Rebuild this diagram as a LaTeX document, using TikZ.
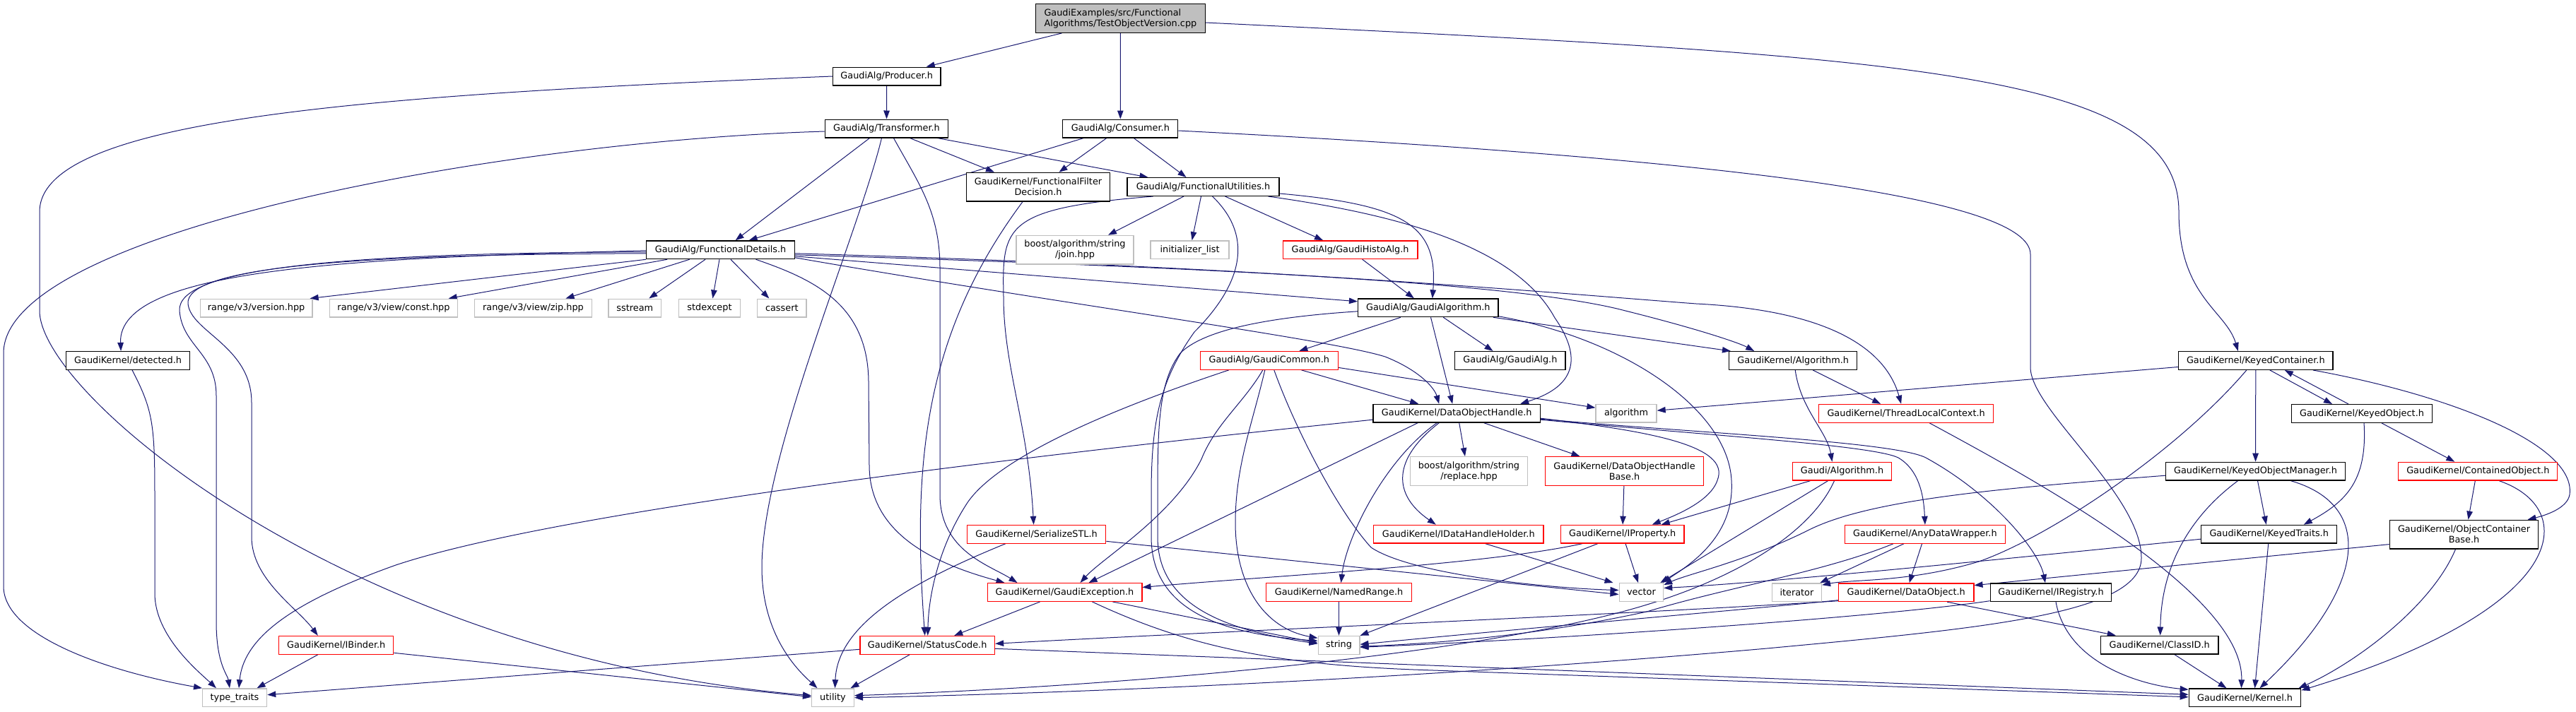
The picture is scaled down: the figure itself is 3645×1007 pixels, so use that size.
\documentclass[tikz,border=0pt]{standalone}
\usepackage{fontspec}
\newfontfamily\dv{DejaVu Sans}
\usetikzlibrary{arrows.meta}
\definecolor{edgec}{HTML}{191970}
\definecolor{gb}{HTML}{BFBFBF}
\pgfdeclarelayer{bg}
\pgfsetlayers{bg,main}
\tikzset{
 nd/.style={draw=black, fill=white, line width=1.3pt, inner sep=0pt, minimum height=25.7pt, font=\dv\fontsize{12.85}{15}\selectfont, text=black, align=center},
 nd2/.style={nd, minimum height=40.6pt},
 rd/.style={draw=red},
 gy/.style={draw=gb},
 e/.style={draw=edgec, line width=1pt, -{Triangle[length=12pt,width=8.5pt]}},
}
\begin{document}
\begin{tikzpicture}[x=1pt,y=-1pt]
\useasboundingbox (0,0) rectangle (3645,1007);
% ---------- nodes ----------
\node[nd2, fill=gb, align=left, minimum width=239.5pt] (root) at (1585.4,26) {GaudiExamples/src/Functional\\Algorithms/TestObjectVersion.cpp};
\node[nd, minimum width=152.5pt] (producer) at (1254.7,108) {GaudiAlg/Producer.h};
\node[nd, minimum width=174.6pt] (transformer) at (1254.5,182) {GaudiAlg/Transformer.h};
\node[nd, minimum width=163pt] (consumer) at (1585.3,182) {GaudiAlg/Consumer.h};
\node[nd2, minimum width=202.8pt] (ffd) at (1469,264.7) {GaudiKernel/FunctionalFilter\\Decision.h};
\node[nd, minimum width=215pt] (fu) at (1702.5,264.5) {GaudiAlg/FunctionalUtilities.h};
\node[nd, minimum width=209.8pt] (fd) at (1019.6,353.8) {GaudiAlg/FunctionalDetails.h};
\node[nd2, gy, minimum width=166pt] (join) at (1521,353.7) {boost/algorithm/string\\/join.hpp};
\node[nd, gy, minimum width=111pt] (initlist) at (1683.6,353.7) {initializer\_list};
\node[nd, rd, minimum width=190.6pt] (histo) at (1910.6,353.7) {GaudiAlg/GaudiHistoAlg.h};
\node[nd, gy, minimum width=158.8pt] (version) at (362.6,436) {range/v3/version.hpp};
\node[nd, gy, minimum width=180.5pt] (const) at (557,436) {range/v3/view/const.hpp};
\node[nd, gy, minimum width=165.8pt] (zip) at (754.5,436) {range/v3/view/zip.hpp};
\node[nd, gy, minimum width=74.6pt] (sstream) at (898.3,436) {sstream};
\node[nd, gy, minimum width=86.7pt] (stdexcept) at (1004,436) {stdexcept};
\node[nd, gy, minimum width=69.5pt] (cassert) at (1106.3,436) {cassert};
\node[nd, minimum width=198.5pt] (galgo) at (2020.8,435.8) {GaudiAlg/GaudiAlgorithm.h};
\node[nd, minimum width=174.7pt] (detected) at (181.1,510.5) {GaudiKernel/detected.h};
\node[nd, rd, minimum width=195pt] (gcommon) at (1795.8,510.4) {GaudiAlg/GaudiCommon.h};
\node[nd, minimum width=156.2pt] (gaudialg) at (2136.9,510.4) {GaudiAlg/GaudiAlg.h};
\node[nd, minimum width=181.2pt] (gkalgo) at (2537.2,510.5) {GaudiKernel/Algorithm.h};
\node[nd, minimum width=218.6pt] (keyedcont) at (3191.8,510.5) {GaudiKernel/KeyedContainer.h};
\node[nd, minimum width=236.6pt] (doh) at (2061.2,585.2) {GaudiKernel/DataObjectHandle.h};
\node[nd, gy, minimum width=86pt] (algorithm) at (2301,585.2) {algorithm};
\node[nd, rd, minimum width=247pt] (tlc) at (2697.1,585.3) {GaudiKernel/ThreadLocalContext.h};
\node[nd, minimum width=199.3pt] (keyedobj) at (3342,585.5) {GaudiKernel/KeyedObject.h};
\node[nd2, gy, minimum width=166.4pt] (replace) at (2078.5,667) {boost/algorithm/string\\/replace.hpp};
\node[nd2, rd, minimum width=224pt] (dohbase) at (2298.5,667) {GaudiKernel/DataObjectHandle\\Base.h};
\node[nd, rd, minimum width=140.2pt] (galgorithm) at (2606.5,667.2) {Gaudi/Algorithm.h};
\node[nd, minimum width=254pt] (kom) at (3191.5,667.2) {GaudiKernel/KeyedObjectManager.h};
\node[nd, rd, minimum width=225pt] (contained) at (3506.3,667.2) {GaudiKernel/ContainedObject.h};
\node[nd, rd, minimum width=240.4pt] (dhh) at (2063.8,756.2) {GaudiKernel/IDataHandleHolder.h};
\node[nd, rd, minimum width=174.7pt] (iproperty) at (2295.7,756.2) {GaudiKernel/IProperty.h};
\node[nd, rd, minimum width=196.3pt] (serialize) at (1466.6,756.3) {GaudiKernel/SerializeSTL.h};
\node[nd, rd, minimum width=226.5pt] (anydw) at (2723.9,756.3) {GaudiKernel/AnyDataWrapper.h};
\node[nd, minimum width=192pt] (keyedtraits) at (3210.7,756.2) {GaudiKernel/KeyedTraits.h};
\node[nd2, minimum width=210.5pt] (ocb) at (3486.5,756.6) {GaudiKernel/ObjectContainer\\Base.h};
\node[nd, rd, minimum width=205.4pt] (namedrange) at (1894.5,838.5) {GaudiKernel/NamedRange.h};
\node[nd, gy, minimum width=62.5pt] (vector) at (2322.4,838.5) {vector};
\node[nd, rd, minimum width=218.7pt] (gexception) at (1506.5,838.5) {GaudiKernel/GaudiException.h};
\node[nd, gy, minimum width=70.1pt] (iterator) at (2542.4,838.7) {iterator};
\node[nd, rd, minimum width=191.3pt] (dataobject) at (2697.2,838.7) {GaudiKernel/DataObject.h};
\node[nd, minimum width=171.6pt] (iregistry) at (2902,838.7) {GaudiKernel/IRegistry.h};
\node[nd, rd, minimum width=190.6pt] (statuscode) at (1312.2,913.3) {GaudiKernel/StatusCode.h};
\node[nd, rd, minimum width=162pt] (binder) at (475.8,913.3) {GaudiKernel/IBinder.h};
\node[nd, gy, minimum width=58.7pt] (string) at (1894.5,913.3) {string};
\node[nd, minimum width=166.5pt] (classid) at (3055.7,913) {GaudiKernel/ClassID.h};
\node[nd, gy, minimum width=91.2pt] (typetraits) at (332,987.7) {type\_traits};
\node[nd, gy, minimum width=59.7pt] (utility) at (1178.5,987.7) {utility};
\node[nd, minimum width=158.5pt] (kernel) at (3176.5,987.8) {GaudiKernel/Kernel.h};
% ---------- edges ----------
\begin{pgfonlayer}{bg}
% root
\draw[e] ([xshift=-83]root.south) -- ([xshift=56]producer.north);
\draw[e] (root) -- (consumer);
\draw[e] ([yshift=-6]root.east) .. controls (2700,80) and (3083,100) .. (3083,300) .. controls (3083,420) and (3150,440) .. ([xshift=-25]keyedcont.north);
% producer
\draw[e] (producer) -- (transformer);
\draw[e] (producer.west) .. controls (500,135) and (56,170) .. (56,300) -- (56,440) .. controls (56,560) and (500,930) .. ([yshift=3]utility.west);
% transformer
\draw[e] ([xshift=-24]transformer.south) -- ([xshift=21]fd.north);
\draw[e] ([xshift=-7]transformer.south) .. controls (1215,330) and (1080,640) .. (1078,800) .. controls (1077,900) and (1130,950) .. ([xshift=-22]utility.north);
\draw[e] ([xshift=10]transformer.south) .. controls (1300,260) and (1330,300) .. (1330,380) -- (1330,700) .. controls (1330,780) and (1400,800) .. ([xshift=-67]gexception.north);
\draw[e] ([xshift=33]transformer.south) -- ([xshift=-62]ffd.north);
\draw[e] ([xshift=72]transformer.south) -- ([xshift=-78]fu.north);
\draw[e] ([yshift=-4]transformer.west) .. controls (700,200) and (5,330) .. (5,500) -- (5,830) .. controls (5,900) and (150,950) .. ([xshift=-46]typetraits.north);
% consumer
\draw[e] ([xshift=-52]consumer.south) -- ([xshift=40]fd.north);
\draw[e] ([xshift=-19.5]consumer.south) -- ([xshift=29.5]ffd.north);
\draw[e] ([xshift=19]consumer.south) -- ([xshift=-24]fu.north);
\draw[e] ([yshift=-3]consumer.east) .. controls (2450,225) and (2873,280) .. (2873,360) -- (2873,520) .. controls (2873,580) and (3030,700) .. (3030,790) .. controls (3030,870) and (2800,890) .. (2500,918) .. controls (2000,962) and (1500,982) .. (utility.east);
% ffd
\draw[e] ([xshift=-22]ffd.south) .. controls (1310,470) and (1290,650) .. ([xshift=-3.5]statuscode.north);
% fu
\draw[e] ([xshift=-71]fu.south) .. controls (1420,295) and (1418,320) .. (1420,420) .. controls (1420,520) and (1455,600) .. ([xshift=-4]serialize.north);
\draw[e] ([xshift=-27.5]fu.south) -- ([xshift=47]join.north);
\draw[e] ([xshift=-3]fu.south) -- ([xshift=3]initlist.north);
\draw[e] ([xshift=13]fu.south) .. controls (1780,340) and (1750,410) .. (1690,470) .. controls (1640,540) and (1629,600) .. (1629,700) -- (1629,760) .. controls (1629,870) and (1740,898) .. ([yshift=6]string.west);
\draw[e] ([xshift=31]fu.south) -- ([xshift=-38.6]histo.north);
\draw[e] ([xshift=92]fu.south) .. controls (1950,300) and (2140,340) .. (2200,450) .. controls (2245,515) and (2220,550) .. ([xshift=90]doh.north);
\draw[e] ([yshift=-9.5]fu.east) .. controls (1990,290) and (2035,320) .. ([xshift=6]galgo.north);
% histo
\draw[e] ([xshift=17]histo.south) -- ([xshift=-20]galgo.north);
% fd
\draw[e] (fd.south west) -- ([xshift=-4]version.north east);
\draw[e] ([xshift=-75.6]fd.south) -- ([xshift=77.6]const.north);
\draw[e] ([xshift=-44]fd.south) -- ([xshift=46]zip.north);
\draw[e] ([xshift=-21.6]fd.south) -- ([xshift=20]sstream.north);
\draw[e] ([xshift=-1.6]fd.south) -- ([xshift=4.4]stdexcept.north);
\draw[e] ([xshift=14.4]fd.south) -- ([xshift=-18]cassert.north);
\draw[e] ([yshift=-1]fd.west) .. controls (500,365) and (166,380) .. ([xshift=-10]detected.north);
\draw[e] ([yshift=-3]fd.west) .. controls (480,358) and (250,380) .. (254,440) .. controls (258,490) and (306,500) .. (306,560) -- (306,880) .. controls (306,940) and (322,955) .. ([xshift=-7]typetraits.north);
\draw[e] ([yshift=-5]fd.west) .. controls (480,360) and (262,380) .. (266,430) .. controls (270,470) and (356,490) .. (356,570) -- (356,760) .. controls (356,820) and (420,860) .. ([xshift=-26]binder.north);
\draw[e] ([xshift=50]fd.south) .. controls (1150,395) and (1228,430) .. (1229,540) -- (1230,660) .. controls (1231,760) and (1330,800) .. ([xshift=-85]gexception.north);
\draw[e] ([yshift=-9]fd.east) -- ([yshift=9]galgo.west);
\draw[e] ([yshift=-11]fd.east) .. controls (1500,430) and (1880,480) .. (1960,505) .. controls (2010,525) and (2030,550) .. ([xshift=-25]doh.north);
\draw[e] ([yshift=-7]fd.east) .. controls (1700,378) and (2150,400) .. (2300,440) .. controls (2400,465) and (2460,485) .. ([xshift=-55]gkalgo.north);
\draw[e] ([yshift=-5]fd.east) .. controls (1800,378) and (2200,415) .. (2400,430) .. controls (2600,440) and (2670,500) .. ([xshift=-7]tlc.north);
% galgo
\draw[e] ([xshift=-39]galgo.south) -- ([xshift=42.5]gcommon.north);
\draw[e] ([xshift=3.7]galgo.south) -- ([xshift=-6]doh.north);
\draw[e] ([xshift=21.5]galgo.south) -- ([xshift=-24.4]gaudialg.north);
\draw[e] ([xshift=92]galgo.south) -- ([xshift=3]gkalgo.north west);
\draw[e] ([yshift=-12]galgo.east) .. controls (2300,480) and (2445,580) .. (2450,680) .. controls (2455,760) and (2390,800) .. ([xshift=-2]vector.north east);
\draw[e] ([yshift=-5]galgo.west) .. controls (1780,450) and (1700,470) .. (1670,500) .. controls (1640,540) and (1638,600) .. (1638,700) -- (1638,760) .. controls (1638,860) and (1740,893) .. ([yshift=2]string.west);
% gcommon
\draw[e] ([xshift=-57]gcommon.south) .. controls (1600,570) and (1420,640) .. (1370,710) .. controls (1330,770) and (1314,840) .. ([xshift=0.5]statuscode.north);
\draw[e] ([xshift=-9]gcommon.south) .. controls (1760,570) and (1720,600) .. (1700,650) .. controls (1660,730) and (1560,790) .. ([xshift=22]gexception.north);
\draw[e] ([xshift=-6]gcommon.south) .. controls (1772,600) and (1748,660) .. (1748,740) .. controls (1748,830) and (1790,890) .. ([yshift=10]string.west);
\draw[e] ([xshift=7]gcommon.south) .. controls (1830,600) and (1890,720) .. (1940,775) .. controls (2000,815) and (2200,833) .. ([yshift=3]vector.west);
\draw[e] ([xshift=45.7]gcommon.south) -- ([xshift=-54]doh.north);
\draw[e] ([yshift=-10]gcommon.east) -- ([yshift=8]algorithm.west);
% gkalgo
\draw[e] ([xshift=28]gkalgo.south) -- ([xshift=-36]tlc.north);
\draw[e] ([xshift=3]gkalgo.south) .. controls (2548,580) and (2585,610) .. ([xshift=-14]galgorithm.north);
% tlc
\draw[e] ([xshift=33]tlc.south) .. controls (2880,680) and (3175,840) .. ([xshift=-5]kernel.north);
% doh
\draw[e] ([yshift=-9]doh.west) .. controls (1500,640) and (800,720) .. (560,800) .. controls (420,850) and (345,900) .. ([xshift=6]typetraits.north);
\draw[e] ([xshift=-55]doh.south) -- ([xshift=34]gexception.north);
\draw[e] ([xshift=-28]doh.south) .. controls (1960,650) and (1905,760) .. ([xshift=3]namedrange.north);
\draw[e] ([xshift=-25]doh.south) .. controls (1970,650) and (1970,700) .. ([xshift=-32]dhh.north);
\draw[e] ([xshift=3.5]doh.south) -- ([xshift=-5.5]replace.north);
\draw[e] ([xshift=38.5]doh.south) -- ([xshift=-63]dohbase.north);
\draw[e] ([yshift=-7]doh.east) .. controls (2330,610) and (2450,630) .. (2430,680) .. controls (2420,710) and (2370,730) .. ([xshift=42]iproperty.north);
\draw[e] ([yshift=-9]doh.east) .. controls (2400,615) and (2650,630) .. (2686,648) .. controls (2715,665) and (2722,700) .. (anydw.north);
\draw[e] ([yshift=-8]doh.east) .. controls (2400,613) and (2680,625) .. (2725,648) .. controls (2820,700) and (2885,780) .. ([xshift=-8]iregistry.north);
% dohbase
\draw[e] (dohbase) -- (iproperty);
% galgorithm
\draw[e] ([xshift=-45]galgorithm.south) -- ([xshift=55]iproperty.north);
\draw[e] ([xshift=-20]galgorithm.south) -- ([xshift=-5]vector.north east);
\draw[e] ([xshift=-11]galgorithm.south) .. controls (2560,760) and (2440,830) .. (2280,870) .. controls (2000,940) and (1500,975) .. ([yshift=3]utility.east);
% iproperty
\draw[e] (iproperty) -- (vector);
\draw[e] ([xshift=-35]iproperty.south) -- (string.north east);
\draw[e] ([xshift=-57]iproperty.south) .. controls (2100,800) and (1800,815) .. ([yshift=7]gexception.east);
% dhh
\draw[e] ([xshift=38]dhh.south) -- ([xshift=-8]vector.north west);
% namedrange
\draw[e] (namedrange) -- (string);
% serialize
\draw[e] ([yshift=-10]serialize.east) -- ([yshift=-3]vector.west);
\draw[e] ([xshift=-44]serialize.south) .. controls (1300,820) and (1185,880) .. ([xshift=3]utility.north);
% gexception
\draw[e] ([xshift=-35]gexception.south) -- ([xshift=38]statuscode.north);
\draw[e] ([xshift=68]gexception.south) -- ([yshift=3]string.west);
\draw[e] ([xshift=39]gexception.south) .. controls (1680,915) and (1800,940) .. (2000,948) -- ([yshift=1]kernel.west);
% statuscode
\draw[e] ([yshift=-6]statuscode.west) -- ([yshift=4]typetraits.east);
\draw[e] ([xshift=-25]statuscode.south) -- ([xshift=25]utility.north);
\draw[e] ([yshift=-5]statuscode.east) -- ([yshift=4.5]kernel.west);
% anydw
\draw[e] (anydw) -- (dataobject);
\draw[e] ([xshift=-30]anydw.south) -- ([xshift=-3]iterator.north east);
\draw[e] ([xshift=-45]anydw.south) .. controls (2580,810) and (2450,830) .. (2330,866) .. controls (2150,905) and (2000,912) .. ([yshift=-2]string.east);
% dataobject
\draw[e] ([yshift=-11]dataobject.west) .. controls (2450,865) and (2150,890) .. ([yshift=1]string.east);
\draw[e] ([yshift=-12]dataobject.west) .. controls (2300,870) and (1700,895) .. ([yshift=2]statuscode.east);
\draw[e] ([xshift=58]dataobject.south) -- ([xshift=-62]classid.north);
% iregistry
\draw[e] ([xshift=7]iregistry.south) .. controls (2925,940) and (3030,970) .. ([yshift=-2]kernel.north west);
\draw[e] ([yshift=-12]iregistry.west) .. controls (2650,875) and (2200,905) .. ([yshift=-3]string.east);
% classid
\draw[e] ([xshift=21]classid.south) -- ([xshift=-26]kernel.north);
% keyedcont
\draw[e] ([yshift=-9]keyedcont.west) -- ([yshift=4]algorithm.east);
\draw[e] ([xshift=-13]keyedcont.south) .. controls (3080,640) and (2900,760) .. (2800,795) .. controls (2700,825) and (2620,820) .. ([yshift=-3]iterator.north east);
\draw[e] (keyedcont) -- (kom);
\draw[e] ([xshift=20]keyedcont.south) -- ([xshift=-42]keyedobj.north);
\draw[e] ([xshift=-19]keyedobj.north) -- ([xshift=41]keyedcont.south);
\draw[e] ([xshift=81]keyedcont.south) .. controls (3470,560) and (3645,630) .. (3636,700) .. controls (3633,720) and (3600,730) .. ([xshift=90]ocb.north);
% keyedobj
\draw[e] ([xshift=3]keyedobj.south) .. controls (3350,680) and (3320,710) .. ([xshift=49]keyedtraits.north);
\draw[e] ([xshift=28]keyedobj.south) -- ([xshift=-33]contained.north);
% kom
\draw[e] ([yshift=-6]kom.west) .. controls (2850,690) and (2650,705) .. (2560,750) .. controls (2470,795) and (2390,812) .. ([yshift=-3]vector.north east);
\draw[e] ([xshift=3]kom.south) -- ([xshift=-4]keyedtraits.north);
\draw[e] ([xshift=-25]kom.south) .. controls (3100,730) and (3058,800) .. ([xshift=1]classid.north);
\draw[e] ([xshift=50]kom.south) .. controls (3360,715) and (3350,830) .. ([xshift=21]kernel.north);
% contained
\draw[e] ([xshift=-4]contained.south) -- ([xshift=6]ocb.north);
\draw[e] ([xshift=30]contained.south) .. controls (3650,720) and (3640,860) .. ([yshift=-3]kernel.north east);
% ocb
\draw[e] ([yshift=-14]ocb.west) -- ([yshift=10]dataobject.east);
\draw[e] ([xshift=-12]ocb.south) .. controls (3440,860) and (3330,940) .. ([xshift=-4]kernel.north east);
% keyedtraits
\draw[e] ([yshift=-7]keyedtraits.west) .. controls (2800,795) and (2500,825) .. ([yshift=6]vector.east);
\draw[e] ([xshift=-1]keyedtraits.south) -- ([xshift=14]kernel.north);
% binder
\draw[e] ([xshift=-26]binder.south) -- ([xshift=31.5]typetraits.north);
\draw[e] ([yshift=-11]binder.east) -- ([yshift=1]utility.west);
% detected
\draw[e] ([xshift=6]detected.south) .. controls (216,580) and (219,600) .. (219,700) -- (219,840) .. controls (219,900) and (280,950) .. ([xshift=-26]typetraits.north);
\end{pgfonlayer}
\end{tikzpicture}
\end{document}
